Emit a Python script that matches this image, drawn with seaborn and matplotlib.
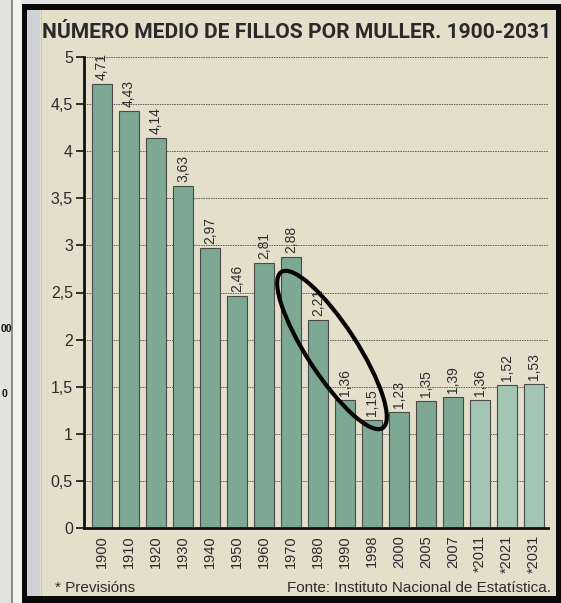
import matplotlib
matplotlib.use("Agg")
import matplotlib.pyplot as plt
from matplotlib.patches import Rectangle, Ellipse
import seaborn as sns
import pandas as pd

# ---- data ----
years = ["1900", "1910", "1920", "1930", "1940", "1950", "1960", "1970", "1980",
         "1990", "1998", "2000", "2005", "2007", "*2011", "*2021", "*2031"]
values = [4.71, 4.43, 4.14, 3.63, 2.97, 2.46, 2.81, 2.88, 2.21,
          1.36, 1.15, 1.23, 1.35, 1.39, 1.36, 1.52, 1.53]
value_labels = ["4,71", "4,43", "4,14", "3,63", "2,97", "2,46", "2,81", "2,88", "2,21",
                "1,36", "1,15", "1,23", "1,35", "1,39", "1,36", "1,52", "1,53"]
ytick_values = [0, 0.5, 1, 1.5, 2, 2.5, 3, 3.5, 4, 4.5, 5]
ytick_labels = ["0", "0,5", "1", "1,5", "2", "2,5", "3", "3,5", "4", "4,5", "5"]
title = "NÚMERO MEDIO DE FILLOS POR MULLER. 1900-2031"
note_left = "* Previsións"
note_right = "Fonte: Instituto Nacional de Estatística."

W, H = 561, 603
sns.set_theme(style="white")
plt.rcParams["font.family"] = ["Liberation Sans", "DejaVu Sans"]
TXT = "#2b2b2b"

fig = plt.figure(figsize=(W / 100, H / 100), dpi=100, facecolor="#e4e4e0")


def prect(x0, y0, x1, y1, color, z=0):
    fig.add_artist(Rectangle((x0 / W, 1 - y1 / H), (x1 - x0) / W, (y1 - y0) / H,
                             transform=fig.transFigure, facecolor=color,
                             edgecolor="none", zorder=z))


# background / page frame
prect(0, 0, 11, H, "#e2e2de", -10)
prect(11, 0, 12.5, H, "#8a8a8a", -10)
prect(12.5, 0, 22, H, "#f1f1ee", -10)
prect(22, 4, W, H, "#0a0a0a", -9)
prect(27, 10, 556, 596, "#e4dfcb", -8)
prect(27, 10, 40, 596, "#cfd3d7", -7)
prect(40.5, 10, 42, 596, "#dcc68e", -7)

# stray glyphs from the neighbouring page
fig.text(0.5 / W, 1 - 332 / H, "00", ha="left", va="baseline", fontsize=7.5,
         fontweight="bold", color="#111")
fig.text(2 / W, 1 - 397 / H, "0", ha="left", va="baseline", fontsize=7.5,
         fontweight="bold", color="#111")

# ---- axes ----
ax_l, ax_r, ax_b, ax_t = 84, 548, 528, 57
ax = fig.add_axes([ax_l / W, 1 - ax_b / H, (ax_r - ax_l) / W, (ax_b - ax_t) / H])
ax.set_facecolor("none")

dark = "#7da994"
light = "#a2c5b4"
colors = [dark] * 14 + [light] * 3
df = pd.DataFrame({"year": years, "value": values})
sns.barplot(data=df, x="year", y="value", hue="year", palette=colors,
            legend=False, width=0.74, edgecolor="#4a4a4a", linewidth=0.8,
            saturation=1, ax=ax, zorder=3)

ax.set_xlim(-0.67, 16.52)
ax.set_ylim(0, 5)
ax.set_yticks(ytick_values)
ax.set_yticklabels(ytick_labels, fontsize=11.5, color=TXT)
ax.tick_params(axis="y", length=6, width=1.2, color="#111", pad=2, left=True)
ax.tick_params(axis="x", length=0, pad=5)
plt.setp(ax.get_xticklabels(), rotation=90, fontsize=10.5, color=TXT)
ax.set_xlabel("")
ax.set_ylabel("")

for s in ["top", "right"]:
    ax.spines[s].set_visible(False)
ax.spines["left"].set_color("#111")
ax.spines["left"].set_linewidth(2)
ax.spines["bottom"].set_color("#111")
ax.spines["bottom"].set_linewidth(2)
ax.spines["left"].set_zorder(5)
ax.spines["bottom"].set_zorder(5)

ax.yaxis.grid(True, color="#5a5a5a", linestyle=(0, (1.5, 1)), linewidth=0.7, zorder=0)
ax.xaxis.grid(False)
ax.set_axisbelow(True)

for i, (v, lab) in enumerate(zip(values, value_labels)):
    ax.annotate(lab, (i, v), xytext=(0, 3), textcoords="offset points",
                rotation=90, ha="center", va="bottom", fontsize=10,
                color=TXT, annotation_clip=False, zorder=6)

# annotation ellipse (pixel coords)
ell = Ellipse((332 / 100, (H - 350) / 100), 1.86, 0.50, angle=-57,
              transform=fig.dpi_scale_trans, fill=False, edgecolor="#050505",
              linewidth=3, zorder=10)
fig.add_artist(ell)

# ---- title & notes ----
t = fig.text(42 / W, 1 - 38 / H, title, ha="left", va="baseline", fontsize=15,
             fontweight="bold", color="#2a2a2a", family=["Roboto", "Liberation Sans"])
fig.canvas.draw()
bb = t.get_window_extent()
t.set_fontsize(15 * 511 / bb.width)

fig.text(55 / W, 1 - 592 / H, note_left, ha="left", va="baseline",
         fontsize=11, color=TXT)
fig.text(551 / W, 1 - 592 / H, note_right, ha="right", va="baseline",
         fontsize=11, color=TXT)

fig.savefig("out.png", dpi=100, facecolor=fig.get_facecolor())
